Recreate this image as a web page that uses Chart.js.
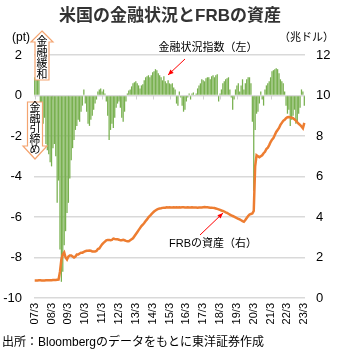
<!DOCTYPE html>
<html>
<head>
<meta charset="utf-8">
<script src="https://cdn.jsdelivr.net/npm/chart.js@4.4.0/dist/chart.umd.min.js"></script>
<style>
  body { margin: 0; background: #fff; }
  #wrap { width: 340px; height: 356px; }
</style>
</head>
<body>
<div id="wrap"><canvas id="myChart" width="340" height="356"></canvas></div>
<script>
const FONT = '"Liberation Sans", "Noto Sans CJK JP", sans-serif';

// monthly, 2007/3 .. 2023/3
const START_YEAR = 2007, START_MONTH = 3, COUNT = 193;
const months = [];
for (let i = 0; i < COUNT; i++) {
  const m = (START_MONTH - 1 + i) % 12 + 1;
  const yr = START_YEAR + Math.floor((START_MONTH - 1 + i) / 12);
  months.push(String(yr % 100).padStart(2, '0') + '/' + m);
}

// Bloomberg financial conditions index (pt, left axis)
const fci = [
  0.9, 1.1, 1.2, 0.8, -0.4, -2.3, -1.4, -1.1, -2.4, -2.7,                 // 2007 Mar-Dec
  -2.9, -3.3, -3.5, -2.6, -2.4, -3.0, -5.3, -4.2, -7.6, -9.2, -8.7, -7.4, // 2008
  -6.7, -5.8, -5.3, -4.1, -3.2, -2.6, -2.2, -1.7, -1.5, -1.2, -1.3, -0.8, // 2009
  -0.5, 0.3, -0.4, -0.8, -1.4, -1.5, -1.2, -1.0, -0.7, -0.4, -0.2, 0.2,   // 2010
  0.3, 0.35, 0.2, 0.3, 0.1, -0.3, -1.0, -2.2, -1.7, -1.4, -1.6, -1.1,     // 2011
  -0.6, -0.4, -0.3, -0.6, -1.1, -1.3, -0.8, -0.3, 0.1, 0.25, 0.3, 0.45,   // 2012
  0.6, 0.65, 0.7, 0.6, 0.5, 0.35, 0.5, 0.55, 0.75, 0.9, 0.95, 1.0,        // 2013
  0.9, 1.0, 1.15, 1.2, 1.3, 1.25, 1.1, 1.0, 0.9, 0.75, 0.95, 0.7,         // 2014
  0.6, 0.75, 0.6, 0.55, 0.6, 0.4, 0.3, -0.4, -0.5, 0.2, -0.1, -0.5,       // 2015
  -0.8, -0.7, -0.3, -0.1, 0.1, -0.2, 0.1, 0.15, 0.0, 0.1, 0.35, 0.5,      // 2016
  0.6, 0.8, 0.75, 0.7, 0.85, 0.9, 0.9, 0.8, 0.95, 1.0, 0.9, 1.0,          // 2017
  1.05, -0.3, 0.1, 0.3, 0.6, 0.7, 0.8, 0.85, 0.9, 0.3, -0.1, -0.7,        // 2018
  -0.2, 0.3, 0.5, 0.6, 0.2, 0.5, 0.8, 0.3, 0.6, 0.8, 0.9, 0.9,            // 2019
  0.6, -1.3, -4.7, -1.7, -0.9, -0.8, -0.4, 0.2, -0.2, -0.5, 0.3, 0.5,     // 2020
  0.6, 0.7, 0.9, 1.2, 1.25, 1.3, 1.35, 1.3, 1.1, 0.8, 0.7, 0.6,           // 2021
  0.2, -0.5, -0.9, -0.7, -1.5, -1.2, -1.0, -0.7, -1.4, -1.3, -0.9, -0.6,  // 2022
  0.3, 0.2, -0.5                                                          // 2023 Jan-Mar
];

// FRB total assets (trillion USD, right axis)
const frb = [
  0.87, 0.87, 0.87, 0.88, 0.88, 0.87, 0.87, 0.87, 0.88, 0.88,             // 2007 Mar-Dec
  0.88, 0.88, 0.88, 0.89, 0.89, 0.89, 0.90, 0.91, 1.3, 1.9, 2.15, 2.25,   // 2008
  2.0, 1.9, 2.05, 2.1, 2.1, 2.05, 2.0, 2.05, 2.15, 2.15, 2.2, 2.24,       // 2009
  2.24, 2.28, 2.31, 2.33, 2.33, 2.34, 2.33, 2.30, 2.30, 2.30, 2.32, 2.42, // 2010
  2.45, 2.55, 2.65, 2.72, 2.78, 2.85, 2.87, 2.87, 2.85, 2.87, 2.93, 2.91, // 2011
  2.90, 2.90, 2.88, 2.85, 2.85, 2.87, 2.85, 2.82, 2.80, 2.80, 2.85, 2.90, // 2012
  2.95, 3.05, 3.15, 3.25, 3.35, 3.45, 3.55, 3.62, 3.70, 3.80, 3.88, 3.98, // 2013
  4.05, 4.13, 4.20, 4.27, 4.32, 4.37, 4.40, 4.42, 4.43, 4.45, 4.46, 4.46, // 2014
  4.48, 4.47, 4.48, 4.47, 4.47, 4.48, 4.47, 4.48, 4.47, 4.48, 4.47, 4.48, // 2015
  4.48, 4.47, 4.47, 4.48, 4.47, 4.47, 4.48, 4.47, 4.47, 4.47, 4.46, 4.47, // 2016
  4.47, 4.47, 4.48, 4.49, 4.48, 4.48, 4.47, 4.46, 4.46, 4.45, 4.44, 4.42, // 2017
  4.40, 4.38, 4.35, 4.32, 4.30, 4.27, 4.23, 4.20, 4.16, 4.12, 4.08, 4.05, // 2018
  4.02, 3.98, 3.94, 3.91, 3.88, 3.84, 3.80, 3.77, 3.85, 3.95, 4.05, 4.12, // 2019
  4.15, 4.17, 4.3, 6.5, 7.05, 7.0, 6.95, 7.0, 7.05, 7.15, 7.22, 7.36,     // 2020
  7.42, 7.55, 7.7, 7.82, 7.9, 8.05, 8.2, 8.3, 8.4, 8.55, 8.65, 8.75,      // 2021
  8.8, 8.88, 8.93, 8.94, 8.92, 8.9, 8.88, 8.82, 8.76, 8.68, 8.6, 8.55,    // 2022
  8.47, 8.38, 8.65                                                        // 2023 Jan-Mar
];

function blockArrow(ctx, cx, top, bottom, bodyHalf, headHalf, headLen, up) {
  ctx.beginPath();
  if (up) {
    ctx.moveTo(cx, top);
    ctx.lineTo(cx + headHalf, top + headLen);
    ctx.lineTo(cx + bodyHalf, top + headLen);
    ctx.lineTo(cx + bodyHalf, bottom);
    ctx.lineTo(cx - bodyHalf, bottom);
    ctx.lineTo(cx - bodyHalf, top + headLen);
    ctx.lineTo(cx - headHalf, top + headLen);
  } else {
    ctx.moveTo(cx, bottom);
    ctx.lineTo(cx + headHalf, bottom - headLen);
    ctx.lineTo(cx + bodyHalf, bottom - headLen);
    ctx.lineTo(cx + bodyHalf, top);
    ctx.lineTo(cx - bodyHalf, top);
    ctx.lineTo(cx - bodyHalf, bottom - headLen);
    ctx.lineTo(cx - headHalf, bottom - headLen);
  }
  ctx.closePath();
  ctx.fillStyle = '#fff';
  ctx.fill();
  ctx.strokeStyle = '#f4a470';
  ctx.lineWidth = 1.2;
  ctx.stroke();
}

function verticalText(ctx, str, cx, y, step) {
  ctx.font = '11px ' + FONT;
  ctx.fillStyle = '#000';
  ctx.textAlign = 'center';
  ctx.textBaseline = 'middle';
  [...str].forEach((ch, k) => ctx.fillText(ch, cx, y + k * step));
}

function redArrow(ctx, x1, y1, x2, y2) {
  const a = Math.atan2(y2 - y1, x2 - x1);
  ctx.strokeStyle = '#ff0000';
  ctx.fillStyle = '#ff0000';
  ctx.lineWidth = 1;
  ctx.beginPath();
  ctx.moveTo(x1, y1);
  ctx.lineTo(x2, y2);
  ctx.stroke();
  ctx.beginPath();
  ctx.moveTo(x2, y2);
  ctx.lineTo(x2 - 6 * Math.cos(a - 0.4), y2 - 6 * Math.sin(a - 0.4));
  ctx.lineTo(x2 - 6 * Math.cos(a + 0.4), y2 - 6 * Math.sin(a + 0.4));
  ctx.closePath();
  ctx.fill();
}

const decor = {
  id: 'decor',
  beforeDatasetsDraw(chart) {
    const {ctx, scales: {x, y}} = chart;
    const y0 = y.getPixelForValue(0);
    ctx.save();
    ctx.strokeStyle = '#d0d0d0';
    ctx.lineWidth = 1;
    months.forEach((m, i) => {
      if (m.endsWith('/3')) {
        const px = Math.round(x.getPixelForValue(i)) + 0.5;
        ctx.beginPath();
        ctx.moveTo(px, y0);
        ctx.lineTo(px, y0 + 4);
        ctx.stroke();
      }
    });
    ctx.restore();
  },
  afterDraw(chart) {
    const ctx = chart.ctx;
    ctx.save();
    ctx.fillStyle = '#333';
    ctx.font = 'bold 17px ' + FONT;
    ctx.textAlign = 'center';
    ctx.textBaseline = 'middle';
    ctx.fillText('米国の金融状況とFRBの資産', 170, 16);

    ctx.fillStyle = '#000';
    ctx.font = '12px ' + FONT;
    ctx.textAlign = 'left';
    ctx.fillText('(pt)', 12, 38);
    ctx.font = '11px ' + FONT;
    ctx.textAlign = 'right';
    ctx.fillText('（兆ドル）', 334, 38);

    ctx.textAlign = 'center';
    ctx.fillText('金融状況指数（左）', 208, 48);
    ctx.fillText('FRBの資産（右）', 213, 244);
    redArrow(ctx, 185, 59, 168, 75);
    redArrow(ctx, 200, 235, 223, 213);

    ctx.font = '12px ' + FONT;
    ctx.textAlign = 'left';
    ctx.fillStyle = '#000';
    ctx.fillText('出所：Bloombergのデータをもとに東洋証券作成', 2, 343);

    blockArrow(ctx, 42, 31, 80, 7, 11, 11, true);
    verticalText(ctx, '金融緩和', 42, 42, 11);
    blockArrow(ctx, 35, 102, 159, 7.5, 12, 13, false);
    verticalText(ctx, '金融引締め', 35, 108, 10.5);
    ctx.restore();
  }
};

const config = {
  type: 'bar',
  data: {
    labels: months,
    datasets: [{
      type: 'line',
      label: 'FRBの資産（右）',
      data: frb,
      yAxisID: 'y1',
      borderColor: '#ed7d31',
      borderWidth: 2.5,
      pointRadius: 0,
      tension: 0,
      order: 0
    }, {
      label: '金融状況指数（左）',
      data: fci,
      yAxisID: 'y',
      backgroundColor: '#78b04f',
      barPercentage: 0.9,
      categoryPercentage: 1,
      order: 1
    }]
  },
  options: {
    responsive: false,
    animation: false,
    layout: { padding: { top: 55, left: 0, right: 0, bottom: 28 } },
    scales: {
      x: {
        grid: { display: false, drawTicks: false },
        border: { display: false },
        afterFit: s => { s.height = 30; },
        ticks: {
          autoSkip: false,
          minRotation: 90,
          maxRotation: 90,
          padding: 5,
          color: '#000',
          font: { size: 11, family: FONT },
          callback: (v, i) => months[i].endsWith('/3') ? months[i] : ''
        }
      },
      y: {
        position: 'left',
        min: -10, max: 2,
        afterFit: s => { s.width = 34; },
        ticks: { stepSize: 2, padding: 12, color: '#000', font: { size: 13, family: FONT } },
        grid: { color: '#d9d9d9', lineWidth: 1.5, drawTicks: false },
        border: { display: false }
      },
      y1: {
        position: 'right',
        min: 0, max: 12,
        afterFit: s => { s.width = 35; },
        ticks: { stepSize: 2, padding: 11, color: '#000', font: { size: 13, family: FONT } },
        grid: { display: false, drawTicks: false },
        border: { display: false }
      }
    },
    plugins: {
      legend: { display: false },
      tooltip: { enabled: false }
    }
  },
  plugins: [decor]
};

window.addEventListener('load', () => {
  new Chart(document.getElementById('myChart').getContext('2d'), config);
});
</script>
</body>
</html>
